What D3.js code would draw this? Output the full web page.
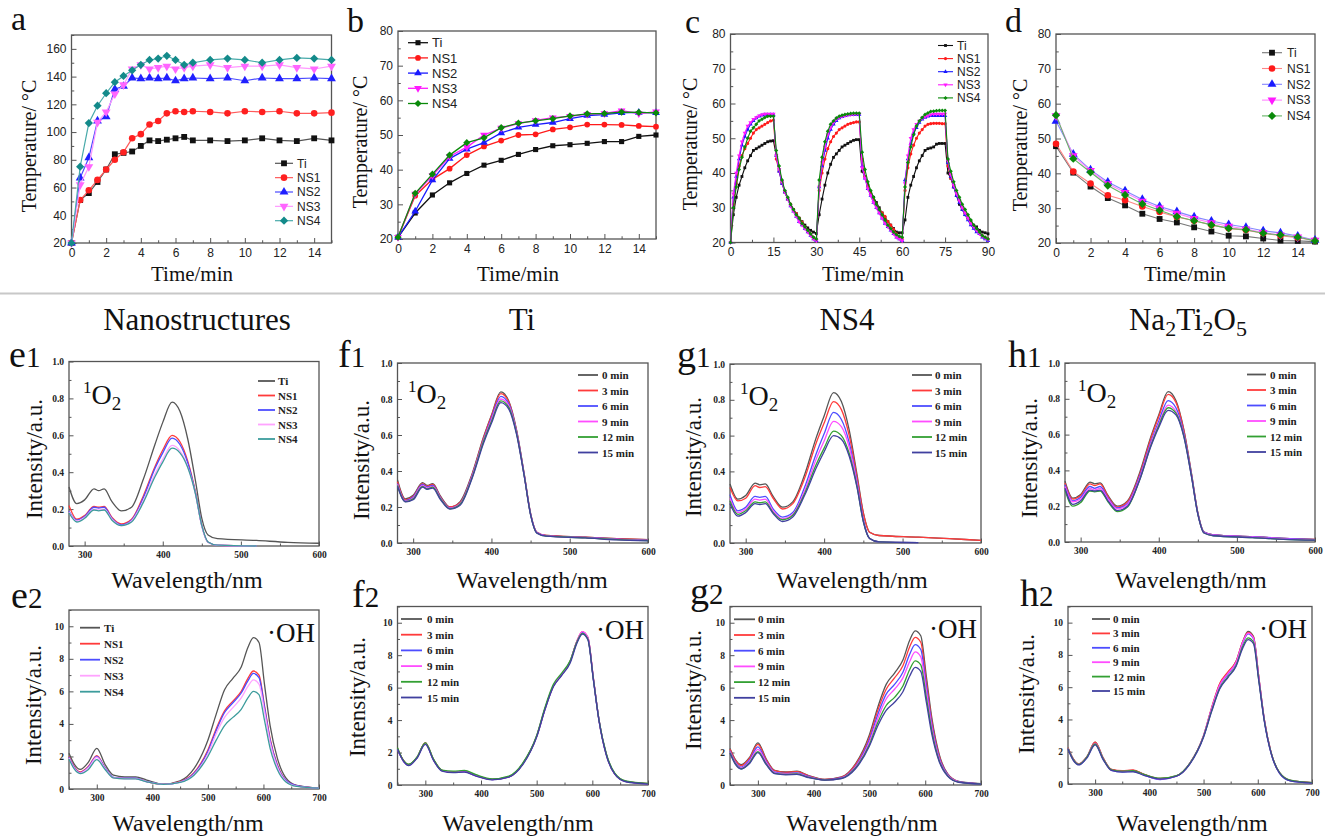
<!DOCTYPE html>
<html>
<head>
<meta charset="utf-8">
<script src="https://d3js.org/d3.v7.min.js"></script>
<style>
  body { margin: 0; background: #fff; }
</style>
</head>
<body>
<svg width="1325" height="837"></svg>
<script>

// ---------- temperature data (a-d) ----------
var aTime = [0, 0.5, 1, 1.5, 2, 2.5, 3, 3.5, 4, 4.5, 5, 5.5, 6, 6.5, 7, 8, 9, 10, 11, 12, 13, 14, 15];
var aTi  = [20, 51, 56, 64, 73, 84, 85, 86, 90, 94, 93.5, 94.5, 95.5, 96.5, 94, 94, 93.5, 94, 95.5, 94, 93.5, 95.5, 94];
var aNS1 = [20, 51, 58, 65.5, 73, 80, 85.5, 95.5, 98.5, 105.5, 108, 113.5, 115, 114.5, 115, 114.5, 113.5, 115, 114.5, 115, 113.5, 113.5, 114];
var aNS2 = [20, 67, 81.5, 108, 111, 131, 133, 139, 138.5, 139, 138.5, 139, 137, 138.5, 139, 138.5, 139, 137, 139, 138.5, 138.5, 139, 138.5];
var aNS3 = [20, 62, 75, 107, 114.5, 127.5, 134, 145.5, 148.5, 145.5, 146.5, 147.5, 145.5, 146.5, 147.5, 148.5, 146.5, 147.5, 147.5, 148.5, 146.5, 145.5, 147.5];
var aNS4 = [20, 75, 106.5, 119, 128, 136, 140.5, 144.5, 148.5, 152, 153, 155, 152, 148.5, 150, 152, 153, 152, 150, 152, 153.5, 153, 152];

var bTime = [0, 1, 2, 3, 4, 5, 6, 7, 8, 9, 10, 11, 12, 13, 14, 15];
var bTi  = [20.5, 27.5, 32.7, 36.2, 38.9, 41.3, 42.7, 44.4, 45.8, 46.9, 47.2, 47.6, 48.1, 48.1, 49.6, 50];
var bNS1 = [20.5, 32.5, 37.2, 40.3, 44.2, 46.7, 48.4, 50, 50.2, 51.6, 52.2, 53, 53, 52.9, 52.6, 52.4];
var bNS2 = [20.5, 28, 37, 43.2, 45.9, 47.8, 50.6, 52.2, 53, 53.6, 54.7, 55.6, 55.9, 56.4, 56.5, 56.4];
var bNS3 = [20.5, 33, 38.3, 43.8, 46.5, 50, 52, 53.3, 54.2, 55, 55.4, 56, 56.2, 57, 56.2, 56.7];
var bNS4 = [20.5, 33.2, 38.7, 44.2, 47.8, 49.2, 52.1, 53.4, 54.1, 54.7, 55.5, 56.1, 56.2, 56.6, 56.5, 56.4];

var cTime = d3.range(0, 91);
var cTi = [20, 28, 33, 36.5, 39, 41.5, 43.5, 45, 46.5, 47, 47.5, 48, 48.5, 49, 49.2, 49.3,
  45, 41, 37.5, 34.5, 32.5, 31, 29.5, 28.3, 27, 26, 25, 24.2, 23.5, 23, 22.6,
  28, 32.5, 36.5, 40, 42.5, 44.5, 45.5, 46.5, 47.5, 48, 48.5, 49, 49.4, 49.6, 49.6,
  40.5, 39, 36.5, 34.5, 33, 31.5, 30, 28.5, 27.2, 26, 25, 24, 23, 22.8, 22.8,
  26.5, 33, 36.5, 39, 41.5, 43.5, 45, 46.5, 47, 47.2, 47.5, 48.3, 48.5, 48.5, 48.5,
  40, 38.5, 36, 33.5, 31, 29.5, 28, 27, 26, 25, 24.5, 23.5, 23, 22.8, 22.5];
var cNS1 = [20, 31, 37, 42, 45, 47, 48.5, 50, 51.5, 52.5, 53, 53.5, 54, 54.5, 55, 55.2,
  44, 40.5, 37, 34.5, 32.5, 31, 29.5, 28.3, 27, 25.8, 24.5, 23.5, 22.5, 21.5, 20.5,
  35, 40, 44, 47, 49, 50.5, 51.5, 52.5, 53, 53.5, 54, 54.3, 54.5, 54.7, 54.7,
  44, 39, 36, 34, 32.5, 31, 29.5, 28.5, 27.5, 26, 25, 23.8, 22.5, 21.5, 21,
  35, 41.5, 45.5, 48, 50, 51.5, 52.5, 53.5, 54, 54.2, 54.3, 54.3, 54.3, 54.2, 54.2,
  42, 38.5, 36, 34, 32, 30, 28.5, 27, 25.5, 24.5, 23.5, 22.8, 22, 21.5, 21];
var cNS2 = [20, 33, 39, 44, 48, 50.5, 52.5, 54, 55, 55.8, 56.3, 56.6, 56.8, 56.8, 56.8, 56.8,
  45, 40.5, 37, 34.5, 32.5, 30.5, 29, 27.5, 26, 25, 24, 23, 22, 21, 20.5,
  36, 42, 46.5, 50, 52.5, 54, 55, 55.8, 56.2, 56.5, 56.7, 56.8, 56.8, 56.8, 56.8,
  42, 38.5, 35.5, 33.5, 31.5, 30, 28.5, 27, 25.5, 24.5, 23.5, 22.5, 21.5, 21, 20.5,
  38, 44, 48.5, 51.5, 53, 54.5, 55.5, 56, 56.3, 56.5, 56.5, 56.5, 56.5, 56.5, 56.5,
  43, 39, 36, 33.5, 31.5, 29.5, 28, 26.5, 25, 24, 23, 22.5, 21.5, 21, 20.5];
var cNS3 = [20, 34, 40, 45, 49, 51.5, 53.5, 54.5, 55.5, 56, 56.5, 56.8, 57, 57, 57, 57,
  45, 41, 37.5, 34.5, 32.5, 30.5, 29, 27.5, 26, 25, 24, 23, 22, 21, 20.5,
  36, 43, 47.5, 51, 53, 54.5, 55.5, 56, 56.3, 56.5, 56.7, 56.8, 56.9, 57, 57,
  41.5, 38.5, 35.5, 33.5, 31.5, 30, 28.5, 27, 25.5, 24.5, 23.5, 22.5, 21.5, 21, 20.5,
  37, 45, 50, 52.5, 54, 55, 55.8, 56.2, 56.5, 56.8, 57, 57, 57, 57, 57,
  43.5, 39.5, 36.5, 34, 32, 30, 28.5, 27, 25.5, 24.5, 23.5, 22.5, 21.8, 21.2, 20.8];
var cNS4 = [20, 30, 36, 41, 44.5, 47.5, 50, 52, 53, 54, 55, 55.5, 56, 56.3, 56.3, 56.3,
  46.5, 42, 38, 35, 33, 31, 29.5, 28, 27, 25.5, 24.5, 23.5, 22.5, 21.5, 21,
  38, 44.5, 49, 52, 54, 55, 55.8, 56.3, 56.6, 56.8, 57, 57.1, 57.2, 57.2, 57.2,
  46, 41, 37.5, 35, 33, 31, 29.5, 28, 26.5, 25, 24, 23, 22.3, 21.8, 21.5,
  36, 43, 47.5, 51, 53.5, 55, 56, 56.8, 57.3, 57.7, 57.8, 57.9, 58, 58, 58,
  44, 40.5, 37.5, 35, 33, 31, 29.5, 28, 26.5, 25, 24, 23, 22, 21.5, 21];

var dTime = [0, 1, 2, 3, 4, 5, 6, 7, 8, 9, 10, 11, 12, 13, 14, 15];
var dTi  = [47.8, 40.2, 36.2, 32.9, 30.8, 28.4, 26.9, 25.9, 24.5, 23.3, 22.1, 21.9, 21.3, 20.7, 20.6, 20.4];
var dNS1 = [48.5, 40.5, 37.1, 33.7, 32.3, 30.5, 28.9, 27.5, 26.4, 25.2, 24.2, 23.7, 22.8, 22.1, 21.5, 20.7];
var dNS2 = [55, 45.5, 41, 37.5, 35, 32.5, 30.5, 29, 27.5, 26.3, 25.3, 24.5, 23.5, 22.9, 22, 20.8];
var dNS3 = [56.5, 45, 40.8, 37, 34.5, 32, 30, 28.5, 27, 25.8, 24.8, 24, 23, 22.3, 21.7, 20.8];
var dNS4 = [56.7, 44.2, 40.3, 36.5, 33.8, 31.2, 29.4, 27.6, 26.4, 25.2, 24.2, 23.8, 22.8, 22.3, 21.7, 20.6];

var sampleNames = ["Ti", "NS1", "NS2", "NS3", "NS4"];
var timeNames = ["0 min", "3 min", "6 min", "9 min", "12 min", "15 min"];

// ---------- 1O2 spectra (e1-h1) ----------
var wlO2 = [280, 290, 300, 312, 318, 325, 335, 347, 360, 375, 390, 400, 412, 422, 432, 442, 450, 458, 470, 520, 560, 600];
var e1Ti  = [0.32, 0.23, 0.25, 0.31, 0.30, 0.31, 0.24, 0.19, 0.21, 0.36, 0.55, 0.67, 0.78, 0.73, 0.58, 0.35, 0.15, 0.06, 0.04, 0.03, 0.02, 0.015];
var e1NS1 = [0.22, 0.145, 0.165, 0.215, 0.21, 0.215, 0.155, 0.12, 0.145, 0.27, 0.43, 0.52, 0.60, 0.565, 0.46, 0.29, 0.11, 0.02, 0.004, 0.0, null, null];
var e1NS2 = [0.19, 0.14, 0.16, 0.21, 0.205, 0.21, 0.15, 0.115, 0.14, 0.26, 0.42, 0.505, 0.585, 0.55, 0.45, 0.285, 0.11, 0.02, 0.004, 0.0, null, null];
var e1NS3 = [0.185, 0.135, 0.155, 0.20, 0.195, 0.20, 0.145, 0.11, 0.135, 0.245, 0.39, 0.47, 0.545, 0.515, 0.43, 0.28, 0.105, 0.02, 0.004, 0.0, null, null];
var e1NS4 = [0.18, 0.13, 0.15, 0.195, 0.19, 0.195, 0.14, 0.11, 0.13, 0.235, 0.375, 0.455, 0.53, 0.505, 0.425, 0.28, 0.11, 0.022, 0.005, 0.0, null, null];

var f1m0  = [0.35, 0.245, 0.265, 0.335, 0.32, 0.33, 0.26, 0.20, 0.23, 0.38, 0.59, 0.71, 0.84, 0.79, 0.63, 0.38, 0.165, 0.06, 0.042, 0.033, 0.024, 0.018];
var f1m3  = [0.34, 0.24, 0.26, 0.33, 0.315, 0.325, 0.255, 0.20, 0.225, 0.375, 0.585, 0.705, 0.83, 0.785, 0.625, 0.378, 0.163, 0.06, 0.042, 0.033, 0.024, 0.018];
var f1m6  = [0.33, 0.235, 0.255, 0.325, 0.31, 0.32, 0.25, 0.195, 0.22, 0.37, 0.575, 0.695, 0.815, 0.775, 0.62, 0.375, 0.16, 0.058, 0.04, 0.031, 0.021, 0.016];
var f1m9  = [0.325, 0.232, 0.25, 0.32, 0.305, 0.315, 0.248, 0.193, 0.218, 0.365, 0.57, 0.685, 0.80, 0.765, 0.615, 0.372, 0.16, 0.058, 0.04, 0.03, 0.02, 0.015];
var f1m12 = [0.32, 0.23, 0.245, 0.315, 0.30, 0.31, 0.245, 0.19, 0.215, 0.36, 0.565, 0.675, 0.79, 0.755, 0.61, 0.37, 0.158, 0.056, 0.038, 0.029, 0.019, 0.014];
var f1m15 = [0.315, 0.228, 0.24, 0.31, 0.298, 0.305, 0.24, 0.188, 0.21, 0.355, 0.555, 0.665, 0.78, 0.745, 0.605, 0.368, 0.157, 0.055, 0.038, 0.028, 0.017, 0.012];

var g1m0  = [0.33, 0.245, 0.265, 0.335, 0.325, 0.33, 0.26, 0.20, 0.23, 0.38, 0.59, 0.71, 0.84, 0.79, 0.63, 0.38, 0.17, 0.06, 0.042, 0.033, 0.024, 0.015];
var g1m3  = [0.31, 0.235, 0.25, 0.32, 0.31, 0.315, 0.25, 0.19, 0.22, 0.36, 0.56, 0.67, 0.79, 0.745, 0.60, 0.365, 0.165, 0.06, 0.042, 0.033, 0.024, 0.015];
var g1m6  = [0.27, 0.18, 0.20, 0.26, 0.255, 0.26, 0.19, 0.145, 0.17, 0.31, 0.50, 0.61, 0.73, 0.69, 0.56, 0.34, 0.13, 0.025, 0.006, 0.002, null, null];
var g1m9  = [0.25, 0.17, 0.19, 0.245, 0.24, 0.245, 0.18, 0.135, 0.16, 0.29, 0.47, 0.57, 0.68, 0.65, 0.535, 0.33, 0.125, 0.025, 0.006, 0.002, null, null];
var g1m12 = [0.235, 0.16, 0.18, 0.23, 0.225, 0.23, 0.17, 0.13, 0.155, 0.275, 0.44, 0.53, 0.625, 0.60, 0.50, 0.315, 0.12, 0.025, 0.006, 0.002, null, null];
var g1m15 = [0.22, 0.15, 0.17, 0.22, 0.215, 0.22, 0.165, 0.12, 0.145, 0.265, 0.42, 0.51, 0.60, 0.58, 0.485, 0.31, 0.12, 0.025, 0.006, 0.002, null, null];

var h1m0  = [0.34, 0.245, 0.265, 0.335, 0.325, 0.33, 0.26, 0.20, 0.23, 0.38, 0.59, 0.71, 0.84, 0.79, 0.63, 0.38, 0.165, 0.055, 0.04, 0.03, 0.02, 0.015];
var h1m3  = [0.33, 0.24, 0.26, 0.325, 0.315, 0.325, 0.255, 0.195, 0.225, 0.37, 0.58, 0.70, 0.825, 0.78, 0.625, 0.378, 0.163, 0.055, 0.04, 0.03, 0.02, 0.014];
var h1m6  = [0.32, 0.23, 0.25, 0.31, 0.30, 0.31, 0.245, 0.19, 0.215, 0.36, 0.56, 0.675, 0.79, 0.75, 0.61, 0.372, 0.16, 0.055, 0.04, 0.03, 0.02, 0.013];
var h1m9  = [0.31, 0.225, 0.24, 0.30, 0.29, 0.30, 0.24, 0.185, 0.21, 0.35, 0.55, 0.66, 0.765, 0.73, 0.60, 0.368, 0.158, 0.052, 0.038, 0.028, 0.018, 0.012];
var h1m12 = [0.29, 0.20, 0.22, 0.285, 0.28, 0.285, 0.225, 0.17, 0.195, 0.34, 0.54, 0.65, 0.75, 0.72, 0.595, 0.365, 0.157, 0.05, 0.035, 0.025, 0.015, 0.01];
var h1m15 = [0.30, 0.21, 0.23, 0.29, 0.285, 0.29, 0.23, 0.175, 0.20, 0.34, 0.535, 0.64, 0.735, 0.71, 0.59, 0.362, 0.156, 0.05, 0.035, 0.025, 0.015, 0.01];

// ---------- .OH spectra (e2-h2) ----------
var wlOH = [250, 260, 270, 285, 300, 315, 330, 350, 370, 390, 420, 450, 475, 500, 515, 530, 545, 560, 572, 582, 592, 602, 612, 625, 640, 660, 700];
var e2Ti  = [2.2, 1.5, 1.2, 1.65, 2.5, 1.5, 0.85, 0.75, 0.75, 0.55, 0.3, 0.5, 1.25, 3.0, 4.6, 6.1, 6.8, 7.5, 8.7, 9.3, 9.0, 6.4, 3.9, 1.9, 0.7, 0.22, 0.05];
var e2NS1 = [2.0, 1.35, 1.05, 1.4, 2.05, 1.3, 0.7, 0.65, 0.65, 0.45, 0.28, 0.45, 1.0, 2.4, 3.7, 4.8, 5.4, 6.0, 6.8, 7.25, 7.0, 5.1, 3.1, 1.5, 0.55, 0.2, 0.05];
var e2NS2 = [1.95, 1.3, 1.0, 1.35, 2.0, 1.3, 0.72, 0.66, 0.66, 0.46, 0.28, 0.43, 0.95, 2.3, 3.6, 4.7, 5.3, 5.9, 6.65, 7.1, 6.85, 5.0, 3.0, 1.45, 0.55, 0.2, 0.05];
var e2NS3 = [1.9, 1.25, 0.98, 1.3, 1.95, 1.25, 0.7, 0.63, 0.63, 0.44, 0.28, 0.42, 0.9, 2.15, 3.4, 4.4, 5.0, 5.6, 6.3, 6.7, 6.45, 4.75, 2.85, 1.35, 0.5, 0.18, 0.05];
var e2NS4 = [1.85, 1.2, 0.95, 1.2, 1.8, 1.2, 0.68, 0.62, 0.62, 0.44, 0.28, 0.4, 0.85, 2.0, 3.0, 3.9, 4.4, 4.9, 5.6, 6.0, 5.8, 4.2, 2.5, 1.2, 0.45, 0.16, 0.05];

var f2m0  = [2.25, 1.55, 1.25, 1.7, 2.6, 1.55, 0.9, 0.8, 0.85, 0.6, 0.35, 0.5, 1.3, 3.0, 4.7, 6.1, 6.8, 7.6, 8.8, 9.35, 9.05, 6.5, 4.0, 1.9, 0.7, 0.22, 0.08];
var f2m3  = [2.25, 1.55, 1.25, 1.7, 2.6, 1.55, 0.9, 0.8, 0.85, 0.6, 0.35, 0.5, 1.3, 3.0, 4.7, 6.1, 6.8, 7.6, 8.85, 9.45, 9.1, 6.55, 4.0, 1.9, 0.7, 0.22, 0.08];
var f2m6  = [2.2, 1.5, 1.22, 1.68, 2.55, 1.52, 0.88, 0.78, 0.83, 0.58, 0.34, 0.5, 1.3, 3.0, 4.7, 6.1, 6.8, 7.6, 8.8, 9.4, 9.05, 6.5, 4.0, 1.9, 0.7, 0.22, 0.07];
var f2m9  = [2.2, 1.5, 1.22, 1.68, 2.55, 1.52, 0.88, 0.78, 0.83, 0.58, 0.34, 0.5, 1.3, 3.0, 4.7, 6.1, 6.8, 7.6, 8.85, 9.45, 9.1, 6.55, 4.0, 1.9, 0.7, 0.22, 0.07];
var f2m12 = [2.3, 1.55, 1.28, 1.72, 2.6, 1.58, 0.92, 0.85, 0.9, 0.65, 0.38, 0.55, 1.35, 3.05, 4.8, 6.2, 6.9, 7.65, 8.8, 9.35, 9.0, 6.5, 4.0, 1.95, 0.75, 0.25, 0.1];
var f2m15 = [2.2, 1.5, 1.2, 1.65, 2.5, 1.5, 0.86, 0.76, 0.8, 0.56, 0.32, 0.48, 1.25, 2.95, 4.65, 6.05, 6.75, 7.5, 8.7, 9.3, 8.95, 6.45, 3.95, 1.85, 0.68, 0.2, 0.06];

var g2m0  = [2.25, 1.55, 1.25, 1.7, 2.6, 1.6, 0.9, 0.8, 0.85, 0.6, 0.35, 0.5, 1.3, 3.1, 4.8, 6.2, 6.9, 7.7, 8.9, 9.5, 9.2, 6.7, 4.1, 1.9, 0.7, 0.22, 0.08];
var g2m3  = [2.2, 1.5, 1.2, 1.65, 2.5, 1.55, 0.88, 0.78, 0.82, 0.58, 0.34, 0.48, 1.25, 2.95, 4.6, 5.9, 6.6, 7.35, 8.5, 9.1, 8.8, 6.4, 3.9, 1.8, 0.68, 0.21, 0.07];
var g2m6  = [2.1, 1.4, 1.1, 1.55, 2.35, 1.45, 0.8, 0.72, 0.75, 0.54, 0.32, 0.45, 1.15, 2.8, 4.35, 5.6, 6.2, 6.95, 8.05, 8.65, 8.35, 6.1, 3.7, 1.7, 0.65, 0.2, 0.07];
var g2m9  = [2.05, 1.35, 1.05, 1.45, 2.2, 1.4, 0.75, 0.68, 0.7, 0.5, 0.3, 0.43, 1.1, 2.65, 4.1, 5.3, 5.9, 6.6, 7.6, 8.2, 7.9, 5.8, 3.5, 1.6, 0.6, 0.19, 0.06];
var g2m12 = [2.0, 1.3, 1.0, 1.38, 2.05, 1.3, 0.72, 0.65, 0.68, 0.48, 0.3, 0.41, 1.05, 2.5, 3.85, 4.9, 5.4, 6.1, 7.1, 7.65, 7.4, 5.4, 3.3, 1.5, 0.58, 0.18, 0.06];
var g2m15 = [1.95, 1.25, 0.98, 1.32, 2.0, 1.25, 0.7, 0.63, 0.65, 0.46, 0.3, 0.4, 1.0, 2.4, 3.65, 4.6, 5.1, 5.75, 6.7, 7.25, 7.0, 5.1, 3.1, 1.45, 0.55, 0.17, 0.06];

var h2m0  = [2.25, 1.55, 1.25, 1.7, 2.6, 1.6, 0.9, 0.8, 0.85, 0.6, 0.32, 0.5, 1.3, 3.0, 4.7, 6.2, 6.9, 7.6, 8.8, 9.45, 9.15, 6.6, 4.0, 1.9, 0.7, 0.22, 0.08];
var h2m3  = [2.25, 1.55, 1.25, 1.7, 2.6, 1.6, 0.9, 0.82, 0.88, 0.6, 0.34, 0.5, 1.3, 3.0, 4.75, 6.25, 6.95, 7.6, 8.8, 9.4, 9.1, 6.6, 4.0, 1.9, 0.7, 0.22, 0.08];
var h2m6  = [2.2, 1.5, 1.2, 1.65, 2.5, 1.55, 0.85, 0.75, 0.78, 0.55, 0.28, 0.48, 1.28, 2.95, 4.65, 6.1, 6.8, 7.5, 8.7, 9.3, 9.0, 6.5, 3.95, 1.85, 0.68, 0.2, 0.07];
var h2m9  = [2.2, 1.5, 1.22, 1.68, 2.52, 1.55, 0.86, 0.78, 0.8, 0.57, 0.32, 0.5, 1.3, 3.0, 4.7, 6.15, 6.85, 7.55, 8.75, 9.35, 9.05, 6.55, 4.0, 1.9, 0.7, 0.22, 0.07];
var h2m12 = [2.2, 1.5, 1.22, 1.68, 2.48, 1.55, 0.88, 0.8, 0.82, 0.6, 0.36, 0.52, 1.3, 2.95, 4.55, 5.95, 6.65, 7.35, 8.5, 9.05, 8.8, 6.4, 3.95, 1.9, 0.72, 0.24, 0.09];
var h2m15 = [2.15, 1.45, 1.18, 1.62, 2.42, 1.5, 0.84, 0.74, 0.76, 0.54, 0.3, 0.48, 1.25, 2.9, 4.5, 5.9, 6.6, 7.3, 8.4, 8.95, 8.7, 6.35, 3.9, 1.85, 0.68, 0.2, 0.06];

// ---------- ticks ----------
var tick15 = [0, 2, 4, 6, 8, 10, 12, 14], minor15 = [1, 3, 5, 7, 9, 11, 13, 15];
var tick90 = [0, 15, 30, 45, 60, 75, 90], minor90 = [7.5, 22.5, 37.5, 52.5, 67.5, 82.5];
var tickA = [20, 40, 60, 80, 100, 120, 140, 160], minorA = [30, 50, 70, 90, 110, 130, 150, 170];
var tick80 = [20, 30, 40, 50, 60, 70, 80], minor80 = [25, 35, 45, 55, 65, 75];
var tickWlO2 = [300, 400, 500, 600], minorWlO2 = [350, 450, 550];
var tickIntO2 = [0, 0.2, 0.4, 0.6, 0.8, 1.0], minorIntO2 = [0.1, 0.3, 0.5, 0.7, 0.9];
var tickWlOH = [300, 400, 500, 600, 700], minorWlOH = [250, 350, 450, 550, 650];
var tickIntOH = [0, 2, 4, 6, 8, 10], minorIntOH = [1, 3, 5, 7, 9, 11];

// pick the first serif face that is really installed
function pickFont(list, fallback) {
    var c = document.createElement("canvas").getContext("2d");
    var probe = "mmmmmmmmmmlliWQ@#ABC";
    c.font = "40px monospace";
    var base = c.measureText(probe).width;
    for (var i = 0; i < list.length; i++) {
        c.font = "40px '" + list[i] + "', monospace";
        if (Math.abs(c.measureText(probe).width - base) > 0.5) return "'" + list[i] + "', serif";
    }
    return fallback;
}
var SERIF = pickFont(["Liberation Serif", "Times New Roman", "DejaVu Serif", "Tinos", "Noto Serif",
                      "FreeSerif", "Nimbus Roman", "Nimbus Roman No9 L"], "serif");
var SANS = '"Liberation Sans", Arial, sans-serif';
var FRAME = "#555";

var svg = d3.select("svg");

// thin grey separator between the two halves
svg.append("line").attr("x1", 0).attr("x2", 1325).attr("y1", 293.5).attr("y2", 293.5)
    .attr("stroke", "#c8c8c8").attr("stroke-width", 2);

function axes(g, x, y, o) {
    var x0 = x.range()[0], x1 = x.range()[1], yb = y.range()[0], yt = y.range()[1];
    var parts = [];
    parts.push(g.append("g").attr("transform", "translate(0," + yb + ")")
        .call(d3.axisBottom(x).tickValues(o.xt).tickFormat(o.xf).tickSizeInner(-o.tick).tickSizeOuter(0).tickPadding(o.pad)));
    parts.push(g.append("g").attr("transform", "translate(0," + yb + ")")
        .call(d3.axisBottom(x).tickValues(o.xm).tickFormat(function() { return ""; }).tickSizeInner(-o.tick * 0.55).tickSizeOuter(0)));
    parts.push(g.append("g").attr("transform", "translate(" + x0 + ",0)")
        .call(d3.axisLeft(y).tickValues(o.yt).tickFormat(o.yf).tickSizeInner(-o.tick).tickSizeOuter(0).tickPadding(o.pad)));
    parts.push(g.append("g").attr("transform", "translate(" + x0 + ",0)")
        .call(d3.axisLeft(y).tickValues(o.ym).tickFormat(function() { return ""; }).tickSizeInner(-o.tick * 0.55).tickSizeOuter(0)));
    parts.forEach(function(a) {
        a.select(".domain").remove();
        a.selectAll("line").attr("stroke", FRAME).attr("stroke-width", 1);
        a.selectAll("text").style("font-family", o.font).style("font-size", o.size + "px")
            .style("font-weight", o.bold ? "bold" : "normal").attr("fill", "#222");
    });
    g.append("rect").attr("x", x0).attr("y", yt).attr("width", x1 - x0).attr("height", yb - yt)
        .attr("fill", "none").attr("stroke", FRAME).attr("stroke-width", 1.3);
}

function symbolPath(shape, size) {
    var t = { square: d3.symbolSquare, circle: d3.symbolCircle, up: d3.symbolTriangle,
              down: d3.symbolTriangle, diamond: d3.symbolSquare }[shape];
    return d3.symbol().type(t).size(size)();
}
function symbolRot(shape) {
    return shape === "down" ? " rotate(180)" : shape === "diamond" ? " rotate(45)" : "";
}

function letter(x, y, main, sub, s1, s2) {
    var t = svg.append("text").attr("x", x).attr("y", y).style("font-family", SERIF)
        .attr("font-size", s1).attr("fill", "#111").text(main);
    if (sub) t.append("tspan").attr("font-size", s2).text(sub);
}

function title(x, y, str, size, rotate) {
    var t = svg.append("text").style("font-family", SERIF).attr("font-size", size)
        .attr("text-anchor", "middle").attr("fill", "#111").text(str);
    if (rotate) t.attr("transform", "translate(" + x + "," + y + ") rotate(-90)");
    else t.attr("x", x).attr("y", y);
}

var shapes = ["square", "circle", "up", "down", "diamond"];

function tempPanel(p) {
    var x = d3.scaleLinear().domain(p.xd).range([p.box[0], p.box[1]]);
    var y = d3.scaleLinear().domain(p.yd).range([p.box[3], p.box[2]]);
    var g = svg.append("g");
    axes(g, x, y, { xt: p.xt, xm: p.xm, yt: p.yt, ym: p.ym, xf: d3.format("d"), yf: d3.format("d"),
                    font: SANS, size: 12, bold: false, pad: 5, tick: 5 });
    var line = d3.line().x(function(d) { return x(d[0]); }).y(function(d) { return y(d[1]); });
    p.series.forEach(function(v, i) {
        var pts = p.t.map(function(t, k) { return [t, v[k]]; });
        g.append("path").datum(pts).attr("fill", "none").attr("stroke", p.lines[i])
            .attr("stroke-width", p.lw).attr("d", line);
        g.selectAll(null).data(pts).enter().append("path")
            .attr("d", symbolPath(shapes[i], p.ms))
            .attr("transform", function(d) { return "translate(" + x(d[0]) + "," + y(d[1]) + ")" + symbolRot(shapes[i]); })
            .attr("fill", p.colors[i]);
    });
    // legend
    var L = p.legend;
    sampleNames.forEach(function(name, i) {
        var ly = L.y + i * L.dy;
        g.append("line").attr("x1", L.x0).attr("x2", L.x1).attr("y1", ly).attr("y2", ly)
            .attr("stroke", p.lines[i]).attr("stroke-width", p.lw);
        g.append("path").attr("d", symbolPath(shapes[i], p.ms))
            .attr("transform", "translate(" + (L.x0 + L.x1) / 2 + "," + ly + ")" + symbolRot(shapes[i]))
            .attr("fill", p.colors[i]);
        g.append("text").attr("x", L.tx).attr("y", ly + L.fs * 0.36).style("font-family", SANS)
            .attr("font-size", L.fs).attr("fill", "#222").text(name);
    });
    letter(p.letter[0], p.letter[1], p.letter[2], null, 34);
    title(p.ytitle[0], p.ytitle[1], "Temperature/ °C", 20, true);
    title(p.xtitle[0], p.xtitle[1], "Time/min", 21, false);
}

var colTop = ["#111", "#ff1a1a", "#1a1aff", "#ff1aff", "#0a8a0a"];

tempPanel({ box: [71.5, 331.5, 35, 243], xd: [0, 15], yd: [20, 170], xt: tick15, xm: minor15, yt: tickA, ym: minorA,
    t: aTime, series: [aTi, aNS1, aNS2, aNS3, aNS4],
    colors: ["#111", "#ff2020", "#2020ff", "#ff66ff", "#138a8a"],
    lines: ["#555", "#ff5a5a", "#4a4aff", "#ff99ff", "#48aaaa"], lw: 1.2, ms: 34,
    legend: { x0: 275, x1: 293, tx: 297, y: 163.3, dy: 14.35, fs: 12 },
    letter: [11, 30, "a"], ytitle: [36, 146], xtitle: [192, 281] });

tempPanel({ box: [398, 656, 31, 239], xd: [0, 15], yd: [20, 80], xt: tick15, xm: minor15, yt: tick80, ym: minor80,
    t: bTime, series: [bTi, bNS1, bNS2, bNS3, bNS4],
    colors: colTop, lines: colTop, lw: 1.3, ms: 26,
    legend: { x0: 408, x1: 428, tx: 432, y: 42.7, dy: 15.2, fs: 13 },
    letter: [347, 32, "b"], ytitle: [367, 142], xtitle: [518, 281] });

tempPanel({ box: [730.5, 988, 34, 242.5], xd: [0, 90], yd: [20, 80], xt: tick90, xm: minor90, yt: tick80, ym: minor80,
    t: cTime, series: [cTi, cNS1, cNS2, cNS3, cNS4],
    colors: colTop, lines: colTop, lw: 1.1, ms: 8,
    legend: { x0: 938, x1: 953, tx: 957, y: 45.5, dy: 13.1, fs: 12 },
    letter: [685, 33, "c"], ytitle: [697, 144], xtitle: [863, 281] });

tempPanel({ box: [1056, 1315, 34, 243], xd: [0, 15], yd: [20, 80], xt: tick15, xm: minor15, yt: tick80, ym: minor80,
    t: dTime, series: [dTi, dNS1, dNS2, dNS3, dNS4],
    colors: colTop, lines: ["#777", "#ff8585", "#8585ff", "#ff85ff", "#66b466"], lw: 1.1, ms: 34,
    legend: { x0: 1262, x1: 1282, tx: 1287, y: 52.7, dy: 15.8, fs: 12 },
    letter: [1005, 32, "d"], ytitle: [1027, 145], xtitle: [1185, 281] });

// ---------- spectra ----------
var colSamples = ["#555555", "#ff3b3b", "#4d4dff", "#ffa3ff", "#3c9c9c"];
var colTimes = ["#555555", "#ff3b3b", "#4d4dff", "#ff4dff", "#33a033", "#40409f"];

function specPanel(p) {
    var x = d3.scaleLinear().domain(p.xd).range([p.box[0], p.box[1]]);
    var y = d3.scaleLinear().domain(p.yd).range([p.box[3], p.box[2]]);
    var g = svg.append("g");
    axes(g, x, y, { xt: p.xt, xm: p.xm, yt: p.yt, ym: p.ym, xf: d3.format("d"), yf: p.yf,
                    font: SERIF, size: 9.5, bold: true, pad: 5, tick: 4.5 });
    var line = d3.line().defined(function(d) { return d[1] != null; })
        .x(function(d) { return x(d[0]); }).y(function(d) { return y(d[1]); })
        .curve(d3.curveMonotoneX);
    p.series.forEach(function(v, i) {
        var pts = p.wl.map(function(w, k) { return [w, v[k]]; });
        g.append("path").datum(pts).attr("fill", "none").attr("stroke", p.colors[i])
            .attr("stroke-width", 1.3).attr("stroke-linejoin", "round").attr("d", line);
    });
    var L = p.legend;
    p.names.forEach(function(name, i) {
        var ly = L.y + i * L.dy;
        g.append("line").attr("x1", L.x0).attr("x2", L.x1).attr("y1", ly).attr("y2", ly)
            .attr("stroke", p.colors[i]).attr("stroke-width", 1.8);
        g.append("text").attr("x", L.tx).attr("y", ly + 4).style("font-family", SERIF)
            .style("font-weight", "bold").attr("font-size", 11).attr("fill", "#222").text(name);
    });
    letter(p.letter[0], p.letter[1], p.letter[2], p.letter[3], 38, 29);
    title(p.ytitle[0], p.ytitle[1], "Intensity/a.u.", 23, true);
    title(p.xtitle[0], p.xtitle[1], "Wavelength/nm", 24, false);
    // species label
    var s = svg.append("text").attr("x", p.tag[0]).attr("y", p.tag[1]).style("font-family", SERIF).attr("fill", "#111");
    if (p.kind === "O2") {
        s.append("tspan").attr("font-size", 17).attr("dy", -11).text("1");
        s.append("tspan").attr("font-size", 28).attr("dy", 11).text("O");
        s.append("tspan").attr("font-size", 19).attr("dy", 6).text("2");
    } else {
        s.attr("font-size", 27).text("\u00b7OH");
    }
}

var o2Base = { xd: [280, 600], yd: [0, 1.0], xt: tickWlO2, xm: minorWlO2, yt: tickIntO2, ym: minorIntO2,
               yf: d3.format(".1f"), wl: wlO2, kind: "O2" };
var ohBase = { xd: [250, 700], yd: [0, 11], xt: tickWlOH, xm: minorWlOH, yt: tickIntOH, ym: minorIntOH,
               yf: d3.format("d"), wl: wlOH, kind: "OH" };
function mk(base, extra) { return Object.assign({}, base, extra); }

specPanel(mk(o2Base, { box: [69, 319, 361.5, 546], series: [e1Ti, e1NS1, e1NS2, e1NS3, e1NS4],
    colors: colSamples, names: sampleNames, legend: { x0: 258, x1: 275, tx: 278, y: 381, dy: 14.5 },
    letter: [9, 367, "e", "1"], ytitle: [42, 459], xtitle: [187, 588], tag: [83, 404] }));
specPanel(mk(o2Base, { box: [397.5, 648, 363, 543], series: [f1m0, f1m3, f1m6, f1m9, f1m12, f1m15],
    colors: colTimes, names: timeNames, legend: { x0: 578, x1: 598, tx: 602, y: 375, dy: 15.5 },
    letter: [338, 367, "f", "1"], ytitle: [369, 460], xtitle: [532, 588], tag: [408, 403] }));
specPanel(mk(o2Base, { box: [730, 981, 364, 543], series: [g1m0, g1m3, g1m6, g1m9, g1m12, g1m15],
    colors: colTimes, names: timeNames, legend: { x0: 912, x1: 932, tx: 935, y: 375, dy: 15.5 },
    letter: [677, 367, "g", "1"], ytitle: [701, 457], xtitle: [852, 588], tag: [740, 405] }));
specPanel(mk(o2Base, { box: [1065, 1315, 363, 542], series: [h1m0, h1m3, h1m6, h1m9, h1m12, h1m15],
    colors: colTimes, names: timeNames, legend: { x0: 1247, x1: 1266, tx: 1270, y: 374.5, dy: 15.5 },
    letter: [1008, 367, "h", "1"], ytitle: [1037, 458], xtitle: [1191, 588], tag: [1078, 402] }));

specPanel(mk(ohBase, { box: [69, 319, 610, 789], series: [e2Ti, e2NS1, e2NS2, e2NS3, e2NS4],
    colors: colSamples, names: sampleNames, legend: { x0: 80, x1: 100, tx: 104, y: 627.7, dy: 16 },
    letter: [11, 608, "e", "2"], ytitle: [41, 705], xtitle: [188, 831], tag: [267, 642] }));
specPanel(mk(ohBase, { box: [397.5, 648, 606.5, 785], series: [f2m0, f2m3, f2m6, f2m9, f2m12, f2m15],
    colors: colTimes, names: timeNames, legend: { x0: 401, x1: 422, tx: 427, y: 619, dy: 15.7 },
    letter: [352, 607, "f", "2"], ytitle: [365, 697], xtitle: [518, 831], tag: [596, 639] }));
specPanel(mk(ohBase, { box: [730, 981, 606.5, 785], series: [g2m0, g2m3, g2m6, g2m9, g2m12, g2m15],
    colors: colTimes, names: timeNames, legend: { x0: 734, x1: 755, tx: 758, y: 619.3, dy: 15.7 },
    letter: [690, 604, "g", "2"], ytitle: [701, 690], xtitle: [862, 831], tag: [929, 638] }));
specPanel(mk(ohBase, { box: [1068, 1312, 606.5, 784], series: [h2m0, h2m3, h2m6, h2m9, h2m12, h2m15],
    colors: colTimes, names: timeNames, legend: { x0: 1092, x1: 1110, tx: 1113, y: 619, dy: 14.4 },
    letter: [1020, 606, "h", "2"], ytitle: [1034, 694], xtitle: [1192, 831], tag: [1259, 638] }));

// row titles
title(197, 330, "Nanostructures", 31, false);
title(522, 330, "Ti", 31, false);
title(847, 330, "NS4", 31, false);
var na = svg.append("text").attr("x", 1188).attr("y", 330).attr("text-anchor", "middle")
    .style("font-family", SERIF).attr("font-size", 31).attr("fill", "#111");
na.append("tspan").text("Na");
na.append("tspan").attr("font-size", 22).attr("dy", 6).text("2");
na.append("tspan").attr("dy", -6).text("Ti");
na.append("tspan").attr("font-size", 22).attr("dy", 6).text("2");
na.append("tspan").attr("dy", -6).text("O");
na.append("tspan").attr("font-size", 22).attr("dy", 6).text("5");

</script>
</body>
</html>
